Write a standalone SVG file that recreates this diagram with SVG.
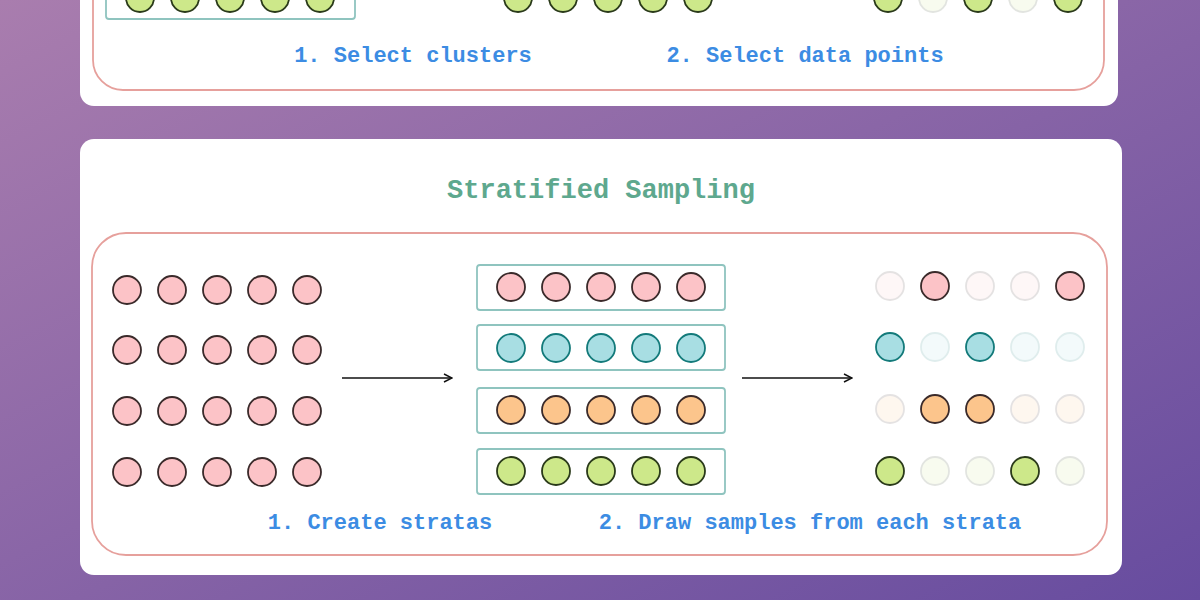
<svg xmlns="http://www.w3.org/2000/svg" width="1200" height="600" viewBox="0 0 1200 600">
<defs>
<linearGradient id="bg" x1="0" y1="0" x2="1" y2="1"><stop offset="0" stop-color="#a97dae"/><stop offset="1" stop-color="#674c9f"/></linearGradient>
<marker id="ah" markerWidth="10" markerHeight="10" refX="9" refY="5" orient="auto" markerUnits="userSpaceOnUse"><path d="M1,1 L9,5 L1,9" fill="none" stroke="#111" stroke-width="1.5"/></marker>
<style>
.card{fill:#fff}
.inner{fill:none;stroke:#e6a09c;stroke-width:1.8}
.box{fill:none;stroke:#8fc4bf;stroke-width:1.8}
circle{stroke-width:1.8}
.p{fill:#fcc3c7;stroke:#3a2a2a}
.t{fill:#a8dee3;stroke:#137a7a}
.o{fill:#fcc58c;stroke:#3a2a2a}
.g{fill:#cde88a;stroke:#2a3a1a}
.f{opacity:0.13}
.lbl{font-family:"Liberation Mono",monospace;font-weight:bold;font-size:22px;fill:#3c8ce3;text-anchor:middle}
.title{font-family:"Liberation Mono",monospace;font-weight:bold;font-size:27px;fill:#5ea88e;text-anchor:middle}
</style>
</defs>
<rect width="1200" height="600" fill="url(#bg)"/>
<g id="top">
<rect class="card" x="80" y="-20" width="1038" height="126" rx="14"/>
<rect class="inner" x="93" y="-40" width="1011" height="130" rx="30"/>
<rect class="box" x="106" y="-25" width="249" height="44" rx="3"/>
<g><circle class="g" cx="140" cy="-2" r="14"/><circle class="g" cx="185" cy="-2" r="14"/><circle class="g" cx="230" cy="-2" r="14"/><circle class="g" cx="275" cy="-2" r="14"/><circle class="g" cx="320" cy="-2" r="14"/></g>
<g><circle class="g" cx="518" cy="-2" r="14"/><circle class="g" cx="563" cy="-2" r="14"/><circle class="g" cx="608" cy="-2" r="14"/><circle class="g" cx="653" cy="-2" r="14"/><circle class="g" cx="698" cy="-2" r="14"/></g>
<g><circle class="g" cx="888" cy="-2" r="14"/><circle class="g f" cx="933" cy="-2" r="14"/><circle class="g" cx="978" cy="-2" r="14"/><circle class="g f" cx="1023" cy="-2" r="14"/><circle class="g" cx="1068" cy="-2" r="14"/></g>
<text class="lbl" x="413" y="62">1. Select clusters</text>
<text class="lbl" x="805" y="62">2. Select data points</text>
</g>
<g id="bottom">
<rect class="card" x="80" y="139" width="1042" height="436" rx="14"/>
<text class="title" x="601" y="198">Stratified Sampling</text>
<rect class="inner" x="92" y="233" width="1015" height="322" rx="34"/>
</g>
<g id="left-grid">
<circle class="p" cx="127" cy="290" r="14"/><circle class="p" cx="172" cy="290" r="14"/><circle class="p" cx="217" cy="290" r="14"/><circle class="p" cx="262" cy="290" r="14"/><circle class="p" cx="307" cy="290" r="14"/>
<circle class="p" cx="127" cy="350" r="14"/><circle class="p" cx="172" cy="350" r="14"/><circle class="p" cx="217" cy="350" r="14"/><circle class="p" cx="262" cy="350" r="14"/><circle class="p" cx="307" cy="350" r="14"/>
<circle class="p" cx="127" cy="411" r="14"/><circle class="p" cx="172" cy="411" r="14"/><circle class="p" cx="217" cy="411" r="14"/><circle class="p" cx="262" cy="411" r="14"/><circle class="p" cx="307" cy="411" r="14"/>
<circle class="p" cx="127" cy="472" r="14"/><circle class="p" cx="172" cy="472" r="14"/><circle class="p" cx="217" cy="472" r="14"/><circle class="p" cx="262" cy="472" r="14"/><circle class="p" cx="307" cy="472" r="14"/>
</g>
<g id="strata">
<rect class="box" x="477" y="265" width="248" height="45" rx="3"/>
<rect class="box" x="477" y="325" width="248" height="45" rx="3"/>
<rect class="box" x="477" y="388" width="248" height="45" rx="3"/>
<rect class="box" x="477" y="449" width="248" height="45" rx="3"/>
<circle class="p" cx="511" cy="287" r="14"/><circle class="p" cx="556" cy="287" r="14"/><circle class="p" cx="601" cy="287" r="14"/><circle class="p" cx="646" cy="287" r="14"/><circle class="p" cx="691" cy="287" r="14"/>
<circle class="t" cx="511" cy="348" r="14"/><circle class="t" cx="556" cy="348" r="14"/><circle class="t" cx="601" cy="348" r="14"/><circle class="t" cx="646" cy="348" r="14"/><circle class="t" cx="691" cy="348" r="14"/>
<circle class="o" cx="511" cy="410" r="14"/><circle class="o" cx="556" cy="410" r="14"/><circle class="o" cx="601" cy="410" r="14"/><circle class="o" cx="646" cy="410" r="14"/><circle class="o" cx="691" cy="410" r="14"/>
<circle class="g" cx="511" cy="471" r="14"/><circle class="g" cx="556" cy="471" r="14"/><circle class="g" cx="601" cy="471" r="14"/><circle class="g" cx="646" cy="471" r="14"/><circle class="g" cx="691" cy="471" r="14"/>
</g>
<g id="samples">
<circle class="p f" cx="890" cy="286" r="14"/><circle class="p" cx="935" cy="286" r="14"/><circle class="p f" cx="980" cy="286" r="14"/><circle class="p f" cx="1025" cy="286" r="14"/><circle class="p" cx="1070" cy="286" r="14"/>
<circle class="t" cx="890" cy="347" r="14"/><circle class="t f" cx="935" cy="347" r="14"/><circle class="t" cx="980" cy="347" r="14"/><circle class="t f" cx="1025" cy="347" r="14"/><circle class="t f" cx="1070" cy="347" r="14"/>
<circle class="o f" cx="890" cy="409" r="14"/><circle class="o" cx="935" cy="409" r="14"/><circle class="o" cx="980" cy="409" r="14"/><circle class="o f" cx="1025" cy="409" r="14"/><circle class="o f" cx="1070" cy="409" r="14"/>
<circle class="g" cx="890" cy="471" r="14"/><circle class="g f" cx="935" cy="471" r="14"/><circle class="g f" cx="980" cy="471" r="14"/><circle class="g" cx="1025" cy="471" r="14"/><circle class="g f" cx="1070" cy="471" r="14"/>
</g>
<g id="connectors" stroke="#111" stroke-width="1.5" fill="none">
<line x1="342" y1="378" x2="452" y2="378" marker-end="url(#ah)"/>
<line x1="742" y1="378" x2="852" y2="378" marker-end="url(#ah)"/>
</g>
<g id="labels">
<text class="lbl" x="380" y="529">1. Create stratas</text>
<text class="lbl" x="810" y="529">2. Draw samples from each strata</text>
</g>
</svg>
